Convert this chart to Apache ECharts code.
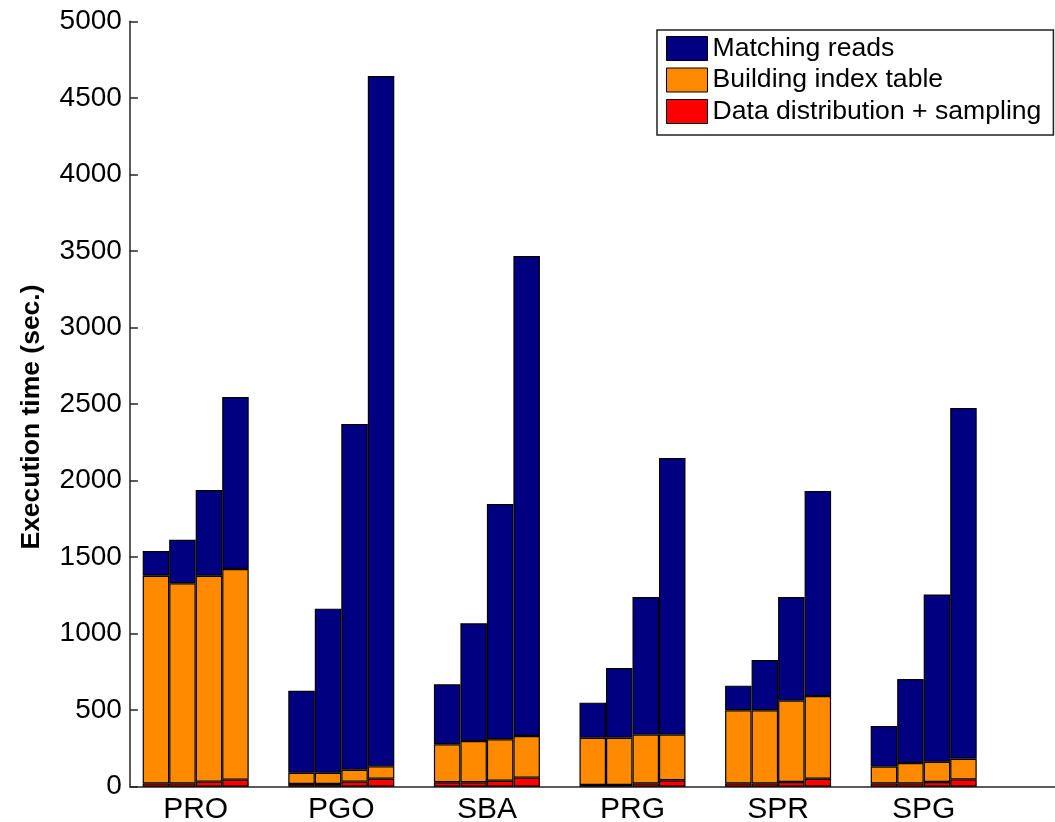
<!DOCTYPE html>
<html>
<head>
<meta charset="utf-8">
<title>Execution time breakdown</title>
<script src="https://cdn.jsdelivr.net/npm/echarts@6/dist/echarts.min.js"></script>
<style>
  html, body { margin: 0; padding: 0; background: #fff; }
  #chart { width: 1055px; height: 822px; }
</style>
</head>
<body>
<div id="chart"></div>
<script>
// Datasets, one group of four runs each
const categories = ['PRO', 'PGO', 'SBA', 'PRG', 'SPR', 'SPG'];

// Seconds spent per phase, [run1, run2, run3, run4] for each dataset
const sampling = [
  [22, 22, 33, 46],
  [18, 18, 33, 52],
  [29, 29, 39, 59],
  [11, 11, 22, 42],
  [22, 22, 31, 52],
  [22, 22, 31, 48]
];
const indexing = [
  [1356, 1307, 1345, 1376],
  [73, 73, 78, 81],
  [248, 270, 271, 272],
  [309, 309, 318, 298],
  [477, 477, 531, 540],
  [109, 133, 132, 135]
];
const matching = [
  [162, 284, 560, 1123],
  [536, 1072, 2259, 4510],
  [392, 768, 1537, 3135],
  [229, 455, 899, 1807],
  [161, 329, 677, 1340],
  [266, 548, 1093, 2291]
];

const yTicks = { min: 0, max: 5000, step: 500 };

const phaseNames = ['Data distribution + sampling', 'Building index table', 'Matching reads'];
const phaseColors = ['#ff0000', '#ff8a00', '#000080'];
const phaseData = [sampling, indexing, matching];

const FONT = '"Liberation Sans", Arial, Helvetica, sans-serif';
const AXIS_COLOR = '#262626';

const series = [];
for (let run = 0; run < 4; run++) {
  for (let p = 0; p < 3; p++) {
    series.push({
      name: phaseNames[p],
      type: 'bar',
      stack: 'run' + run,
      xAxisIndex: 0,
      yAxisIndex: 0,
      barWidth: 26.5,
      barGap: '0%',
      itemStyle: { color: phaseColors[p], borderColor: '#000', borderWidth: 1.2 },
      emphasis: { disabled: true },
      data: categories.map((_, g) => phaseData[p][g][run])
    });
  }
}

const chart = echarts.init(document.getElementById('chart'), null, { renderer: 'canvas' });
chart.setOption({
  animation: false,
  backgroundColor: '#fff',
  textStyle: { fontFamily: FONT },
  grid: [
    { left: 122.9, width: 873.6, top: 21.3, height: 765.4, containLabel: false, outerBoundsMode: 'none' },
    { left: 130, right: 0, top: 21.3, height: 765.4, containLabel: false, outerBoundsMode: 'none' }
  ],
  xAxis: [
    {
      type: 'category',
      gridIndex: 0,
      data: categories,
      axisLine: { show: false },
      axisTick: { show: false },
      axisLabel: { color: '#000', fontSize: 30, fontFamily: FONT, margin: 8 },
      splitLine: { show: false }
    },
    {
      type: 'value',
      gridIndex: 1,
      min: 0,
      max: 1,
      axisLine: { show: true, onZero: false, lineStyle: { color: AXIS_COLOR, width: 1.5 } },
      axisTick: { show: false },
      axisLabel: { show: false },
      splitLine: { show: false }
    }
  ],
  yAxis: [
    {
      type: 'value',
      gridIndex: 0,
      min: yTicks.min,
      max: yTicks.max,
      interval: yTicks.step,
      offset: -7,
      axisLine: { show: true, lineStyle: { color: AXIS_COLOR, width: 1.5 } },
      axisTick: { show: true, inside: true, length: 8, lineStyle: { color: AXIS_COLOR, width: 1.5 } },
      axisLabel: {
        color: '#000',
        fontSize: 28,
        fontFamily: FONT,
        margin: 8,
        formatter: (v) => String(v)
      },
      splitLine: { show: false }
    },
    { type: 'value', gridIndex: 1, show: false, min: 0, max: 1 }
  ],
  legend: {
    data: ['Matching reads', 'Building index table', 'Data distribution + sampling'],
    orient: 'vertical',
    left: 657,
    top: 30,
    itemWidth: 41,
    itemHeight: 24,
    itemGap: 2.5,
    padding: [4, 12, 9, 9],
    backgroundColor: '#fff',
    borderColor: '#222',
    borderWidth: 1.5,
    borderRadius: 0,
    selectedMode: false,
    icon: 'rect',
    itemStyle: { borderColor: '#000', borderWidth: 1 },
    textStyle: { color: '#000', fontSize: 26.6, fontFamily: FONT, lineHeight: 29 }
  },
  graphic: [
    {
      type: 'text',
      x: 32,
      y: 417,
      rotation: Math.PI / 2,
      style: {
        text: 'Execution time (sec.)',
        font: 'bold 26.5px ' + FONT,
        fill: '#000',
        align: 'center',
        verticalAlign: 'middle'
      }
    }
  ],
  series: series
});
</script>
</body>
</html>
